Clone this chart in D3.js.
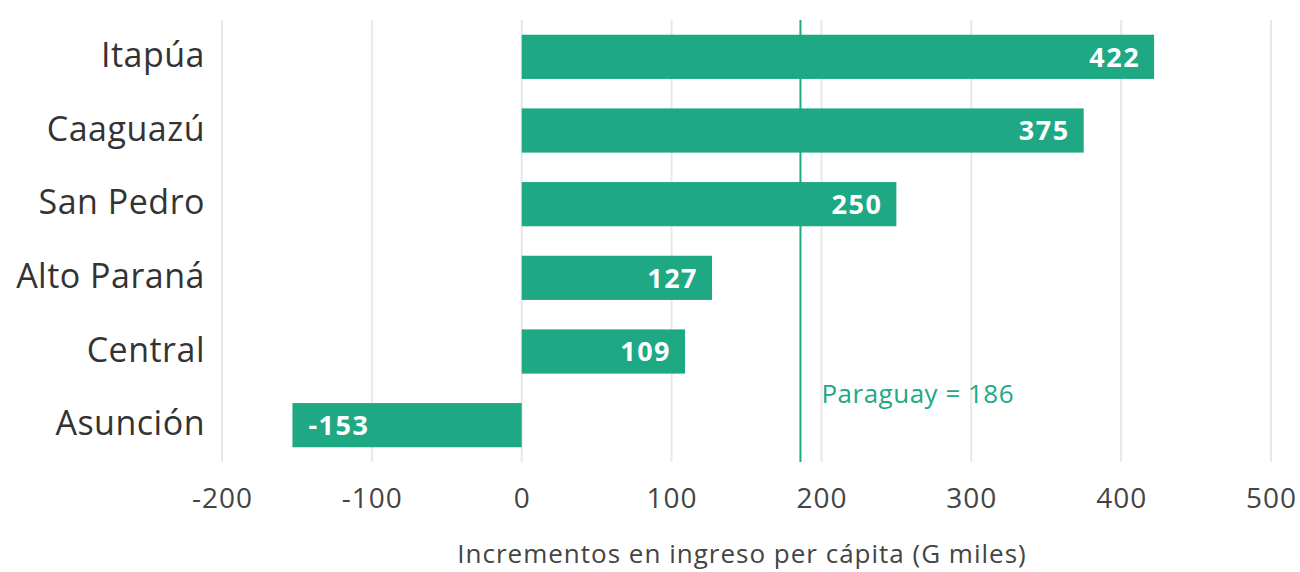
<!DOCTYPE html>
<html>
<head>
<meta charset="utf-8">
<script src="https://cdn.jsdelivr.net/npm/d3@7"></script>
<style>
  body { margin: 0; background: #fff; }
  text { font-family: "Open Sans", Lato, sans-serif; }
</style>
</head>
<body>
<svg id="chart" width="1300" height="572"></svg>
<script>
var departments = ['Itapúa', 'Caaguazú', 'San Pedro', 'Alto Paraná', 'Central', 'Asunción'];
var increments = [422, 375, 250, 127, 109, -153];
var xTicks = [-200, -100, 0, 100, 200, 300, 400, 500];
var nationalLabel = 'Paraguay';
var nationalValue = 186;
var axisTitle = 'Incrementos en ingreso per cápita (G miles)';

var green = '#1ea884';
var svg = d3.select('#chart');

var x = d3.scaleLinear().domain([-200, 500]).range([222, 1271]);
var y = d3.scaleBand().domain(departments).range([20, 462])
  .paddingInner(0.4).paddingOuter(0.2);

// grid
svg.append('g').selectAll('line')
  .data(xTicks)
  .enter().append('line')
  .attr('x1', function(d) { return x(d); })
  .attr('x2', function(d) { return x(d); })
  .attr('y1', 20).attr('y2', 462)
  .attr('stroke', '#e8e8e8').attr('stroke-width', 2);

// bars
var rows = departments.map(function(d, i) { return { name: d, value: increments[i] }; });

svg.append('g').selectAll('rect')
  .data(rows)
  .enter().append('rect')
  .attr('x', function(d) { return x(Math.min(0, d.value)); })
  .attr('width', function(d) { return Math.abs(x(d.value) - x(0)); })
  .attr('y', function(d) { return y(d.name); })
  .attr('height', y.bandwidth())
  .attr('fill', green);

// value labels
svg.append('g').selectAll('text')
  .data(rows)
  .enter().append('text')
  .attr('x', function(d) { return d.value < 0 ? x(d.value) + 16 : x(d.value) - 14; })
  .attr('y', function(d) { return y(d.name) + y.bandwidth() / 2; })
  .attr('dy', '0.36em')
  .attr('text-anchor', function(d) { return d.value < 0 ? 'start' : 'end'; })
  .attr('fill', '#fff')
  .attr('font-weight', 'bold')
  .attr('font-size', 27)
  .attr('letter-spacing', 1.5)
  .text(function(d) { return d.value; });

// category labels
svg.append('g').selectAll('text')
  .data(departments)
  .enter().append('text')
  .attr('x', 205)
  .attr('y', function(d) { return y(d) + y.bandwidth() / 2; })
  .attr('dy', '0.3em')
  .attr('text-anchor', 'end')
  .attr('fill', '#333')
  .attr('font-size', 34)
  .attr('letter-spacing', 0.5)
  .text(function(d) { return d; });

// national reference line
svg.append('line')
  .attr('x1', x(nationalValue)).attr('x2', x(nationalValue))
  .attr('y1', 20).attr('y2', 462)
  .attr('stroke', green).attr('stroke-width', 2);

svg.append('text')
  .attr('x', x(nationalValue) + 21)
  .attr('y', 403)
  .attr('fill', green)
  .attr('font-size', 26)
  .attr('letter-spacing', 0.5)
  .text(nationalLabel + ' = ' + nationalValue);

// x axis
var xAxis = d3.axisBottom(x).tickValues(xTicks).tickSize(0).tickPadding(0)
  .tickFormat(function(d) { return String(d); });
var gx = svg.append('g').attr('transform', 'translate(0,' + 508 + ')').call(xAxis);
gx.select('.domain').remove();
gx.selectAll('text')
  .attr('font-size', 28)
  .attr('fill', '#444')
  .attr('dy', 0)
  .attr('y', 0)
  .attr('letter-spacing', 1)
  .style('font-family', '"Open Sans", Lato, sans-serif');

svg.append('text')
  .attr('x', 742)
  .attr('y', 563)
  .attr('text-anchor', 'middle')
  .attr('fill', '#444')
  .attr('font-size', 26)
  .attr('letter-spacing', 1)
  .text(axisTitle);
</script>
</body>
</html>
